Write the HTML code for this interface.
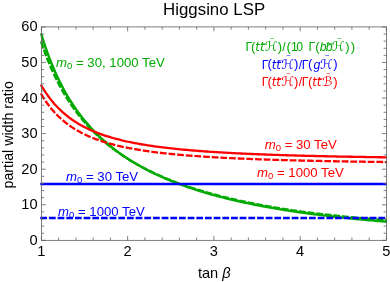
<!DOCTYPE html>
<html><head><meta charset="utf-8"><title>Higgsino LSP</title>
<style>
html,body{margin:0;padding:0;background:#fff;}
body{width:390px;height:282px;overflow:hidden;}
svg{display:block;will-change:transform;}
text{font-family:"Liberation Sans",sans-serif;fill:#000;}
.tk text{font-size:14.6px;}
.it{font-style:italic;}
.dj{font-family:"DejaVu Sans",sans-serif;}
.djo{font-family:"DejaVu Sans",sans-serif;font-style:oblique;}

</style></head><body>
<svg width="390" height="282" viewBox="0 0 390 282">
<rect width="390" height="282" fill="#fff"/>
<clipPath id="cp"><rect x="38" y="20" width="349" height="225"/></clipPath>
<g fill="none" stroke-linejoin="round" stroke-linecap="square" clip-path="url(#cp)">
<path d="M41.40,34.58 L43.57,41.50 L45.74,47.98 L47.91,54.08 L50.08,59.82 L52.25,65.23 L54.42,70.34 L56.59,75.18 L58.76,79.77 L60.93,84.13 L63.10,88.27 L65.27,92.22 L67.44,95.98 L69.61,99.57 L71.78,103.00 L73.95,106.28 L76.12,109.43 L78.29,112.45 L80.46,115.34 L82.63,118.13 L84.80,120.80 L86.97,123.38 L89.14,125.86 L91.31,128.26 L93.48,130.56 L95.65,132.80 L97.82,134.95 L99.98,137.03 L102.15,139.05 L104.32,141.00 L106.49,142.89 L108.66,144.73 L110.83,146.51 L113.00,148.23 L115.17,149.91 L117.34,151.53 L119.51,153.11 L121.68,154.65 L123.85,156.15 L126.02,157.60 L128.19,159.01 L130.36,160.39 L132.53,161.74 L134.70,163.04 L136.87,164.32 L139.04,165.56 L141.21,166.78 L143.38,167.96 L145.55,169.11 L147.72,170.24 L149.89,171.34 L152.06,172.42 L154.23,173.47 L156.40,174.49 L158.57,175.50 L160.74,176.48 L162.91,177.44 L165.08,178.38 L167.25,179.30 L169.42,180.20 L171.59,181.08 L173.76,181.94 L175.93,182.78 L178.10,183.61 L180.27,184.42 L182.44,185.21 L184.61,185.99 L186.78,186.75 L188.95,187.50 L191.12,188.23 L193.29,188.95 L195.46,189.65 L197.63,190.34 L199.80,191.02 L201.97,191.68 L204.14,192.34 L206.31,192.98 L208.48,193.61 L210.65,194.22 L212.82,194.83 L214.98,195.42 L217.15,196.01 L219.32,196.58 L221.49,197.15 L223.66,197.70 L225.83,198.24 L228.00,198.78 L230.17,199.30 L232.34,199.82 L234.51,200.33 L236.68,200.83 L238.85,201.32 L241.02,201.80 L243.19,202.27 L245.36,202.74 L247.53,203.20 L249.70,203.65 L251.87,204.09 L254.04,204.53 L256.21,204.96 L258.38,205.38 L260.55,205.79 L262.72,206.20 L264.89,206.61 L267.06,207.00 L269.23,207.39 L271.40,207.77 L273.57,208.15 L275.74,208.52 L277.91,208.89 L280.08,209.25 L282.25,209.60 L284.42,209.95 L286.59,210.30 L288.76,210.64 L290.93,210.97 L293.10,211.30 L295.27,211.62 L297.44,211.94 L299.61,212.25 L301.78,212.56 L303.95,212.87 L306.12,213.17 L308.29,213.46 L310.46,213.75 L312.63,214.04 L314.80,214.32 L316.97,214.60 L319.14,214.88 L321.31,215.15 L323.48,215.41 L325.65,215.68 L327.82,215.93 L329.98,216.19 L332.15,216.44 L334.32,216.69 L336.49,216.93 L338.66,217.17 L340.83,217.41 L343.00,217.64 L345.17,217.87 L347.34,218.10 L349.51,218.33 L351.68,218.55 L353.85,218.76 L356.02,218.98 L358.19,219.19 L360.36,219.40 L362.53,219.61 L364.70,219.81 L366.87,220.01 L369.04,220.20 L371.21,220.40 L373.38,220.59 L375.55,220.78 L377.72,220.97 L379.89,221.15 L382.06,221.33 L384.23,221.51 L386.40,221.69" stroke="#00aa00" stroke-width="2.4"/>
<path d="M41.40,42.59 L43.57,48.85 L45.74,54.74 L47.91,60.30 L50.08,65.55 L52.25,70.52 L54.42,75.23 L56.59,79.69 L58.76,83.94 L60.93,87.98 L63.10,91.83 L65.27,95.51 L67.44,99.02 L69.61,102.38 L71.78,105.60 L73.95,108.69 L76.12,111.65 L78.29,114.50 L80.46,117.23 L82.63,119.87 L84.80,122.41 L86.97,124.85 L89.14,127.21 L91.31,129.49 L93.48,131.70 L95.65,133.83 L97.82,135.89 L99.98,137.88 L102.15,139.82 L104.32,141.69 L106.49,143.51 L108.66,145.27 L110.83,146.98 L113.00,148.64 L115.17,150.26 L117.34,151.83 L119.51,153.36 L121.68,154.84 L123.85,156.29 L126.02,157.70 L128.19,159.07 L130.36,160.41 L132.53,161.71 L134.70,162.98 L136.87,164.22 L139.04,165.43 L141.21,166.61 L143.38,167.76 L145.55,168.89 L147.72,169.99 L149.89,171.06 L152.06,172.11 L154.23,173.14 L156.40,174.14 L158.57,175.12 L160.74,176.08 L162.91,177.02 L165.08,177.94 L167.25,178.84 L169.42,179.72 L171.59,180.58 L173.76,181.43 L175.93,182.26 L178.10,183.07 L180.27,183.86 L182.44,184.64 L184.61,185.40 L186.78,186.15 L188.95,186.89 L191.12,187.61 L193.29,188.31 L195.46,189.00 L197.63,189.68 L199.80,190.35 L201.97,191.00 L204.14,191.65 L206.31,192.28 L208.48,192.90 L210.65,193.50 L212.82,194.10 L214.98,194.69 L217.15,195.26 L219.32,195.83 L221.49,196.39 L223.66,196.93 L225.83,197.47 L228.00,198.00 L230.17,198.52 L232.34,199.03 L234.51,199.53 L236.68,200.02 L238.85,200.50 L241.02,200.98 L243.19,201.45 L245.36,201.91 L247.53,202.36 L249.70,202.81 L251.87,203.25 L254.04,203.68 L256.21,204.10 L258.38,204.52 L260.55,204.93 L262.72,205.34 L264.89,205.73 L267.06,206.13 L269.23,206.51 L271.40,206.89 L273.57,207.27 L275.74,207.63 L277.91,208.00 L280.08,208.35 L282.25,208.70 L284.42,209.05 L286.59,209.39 L288.76,209.73 L290.93,210.06 L293.10,210.38 L295.27,210.70 L297.44,211.02 L299.61,211.33 L301.78,211.63 L303.95,211.91 L306.12,212.20 L308.29,212.48 L310.46,212.75 L312.63,213.02 L314.80,213.29 L316.97,213.55 L319.14,213.81 L321.31,214.07 L323.48,214.32 L325.65,214.57 L327.82,214.81 L329.98,215.05 L332.15,215.28 L334.32,215.52 L336.49,215.75 L338.66,215.97 L340.83,216.19 L343.00,216.41 L345.17,216.63 L347.34,216.84 L349.51,217.05 L351.68,217.25 L353.85,217.46 L356.02,217.66 L358.19,217.85 L360.36,218.05 L362.53,218.24 L364.70,218.43 L366.87,218.61 L369.04,218.79 L371.21,218.97 L373.38,219.15 L375.55,219.32 L377.72,219.50 L379.89,219.67 L382.06,219.83 L384.23,220.00 L386.40,220.16" stroke="#00aa00" stroke-width="2.4" stroke-dasharray="4.5 4.17"/>
<path d="M41.40,184.00 L386.40,184.00" stroke="#0000ff" stroke-width="2.3"/>
<path d="M41.40,218.00 L386.40,218.00" stroke="#0000ff" stroke-width="2.3" stroke-dasharray="4.5 4.17"/>
<path d="M41.40,85.60 L43.57,89.22 L45.74,92.58 L47.91,95.72 L50.08,98.64 L52.25,101.36 L54.42,103.91 L56.59,106.30 L58.76,108.53 L60.93,110.64 L63.10,112.61 L65.27,114.47 L67.44,116.23 L69.61,117.88 L71.78,119.45 L73.95,120.93 L76.12,122.33 L78.29,123.65 L80.46,124.91 L82.63,126.11 L84.80,127.24 L86.97,128.32 L89.14,129.35 L91.31,130.33 L93.48,131.26 L95.65,132.15 L97.82,133.00 L99.98,133.81 L102.15,134.59 L104.32,135.33 L106.49,136.04 L108.66,136.72 L110.83,137.38 L113.00,138.00 L115.17,138.60 L117.34,139.18 L119.51,139.73 L121.68,140.27 L123.85,140.78 L126.02,141.27 L128.19,141.75 L130.36,142.20 L132.53,142.64 L134.70,143.07 L136.87,143.48 L139.04,143.87 L141.21,144.25 L143.38,144.62 L145.55,144.98 L147.72,145.32 L149.89,145.65 L152.06,145.97 L154.23,146.28 L156.40,146.58 L158.57,146.88 L160.74,147.16 L162.91,147.43 L165.08,147.70 L167.25,147.95 L169.42,148.20 L171.59,148.44 L173.76,148.68 L175.93,148.90 L178.10,149.13 L180.27,149.34 L182.44,149.55 L184.61,149.75 L186.78,149.95 L188.95,150.14 L191.12,150.33 L193.29,150.51 L195.46,150.68 L197.63,150.85 L199.80,151.02 L201.97,151.18 L204.14,151.34 L206.31,151.50 L208.48,151.65 L210.65,151.79 L212.82,151.94 L214.98,152.07 L217.15,152.21 L219.32,152.34 L221.49,152.47 L223.66,152.60 L225.83,152.72 L228.00,152.84 L230.17,152.96 L232.34,153.07 L234.51,153.19 L236.68,153.29 L238.85,153.40 L241.02,153.51 L243.19,153.61 L245.36,153.71 L247.53,153.81 L249.70,153.90 L251.87,153.99 L254.04,154.09 L256.21,154.17 L258.38,154.26 L260.55,154.35 L262.72,154.43 L264.89,154.51 L267.06,154.59 L269.23,154.67 L271.40,154.75 L273.57,154.82 L275.74,154.90 L277.91,154.97 L280.08,155.04 L282.25,155.11 L284.42,155.18 L286.59,155.25 L288.76,155.31 L290.93,155.38 L293.10,155.44 L295.27,155.50 L297.44,155.56 L299.61,155.62 L301.78,155.68 L303.95,155.74 L306.12,155.79 L308.29,155.85 L310.46,155.90 L312.63,155.96 L314.80,156.01 L316.97,156.06 L319.14,156.11 L321.31,156.16 L323.48,156.21 L325.65,156.26 L327.82,156.30 L329.98,156.35 L332.15,156.40 L334.32,156.44 L336.49,156.48 L338.66,156.53 L340.83,156.57 L343.00,156.61 L345.17,156.65 L347.34,156.69 L349.51,156.73 L351.68,156.77 L353.85,156.81 L356.02,156.85 L358.19,156.89 L360.36,156.92 L362.53,156.96 L364.70,156.99 L366.87,157.03 L369.04,157.06 L371.21,157.10 L373.38,157.13 L375.55,157.16 L377.72,157.19 L379.89,157.23 L382.06,157.26 L384.23,157.29 L386.40,157.32" stroke="#ff0000" stroke-width="2.3"/>
<path d="M41.40,94.46 L43.57,97.99 L45.74,101.27 L47.91,104.32 L50.08,107.15 L52.25,109.79 L54.42,112.25 L56.59,114.55 L58.76,116.70 L60.93,118.72 L63.10,120.61 L65.27,122.39 L67.44,124.07 L69.61,125.64 L71.78,127.13 L73.95,128.53 L76.12,129.85 L78.29,131.10 L80.46,132.29 L82.63,133.41 L84.80,134.48 L86.97,135.49 L89.14,136.45 L91.31,137.36 L93.48,138.23 L95.65,139.06 L97.82,139.85 L99.98,140.60 L102.15,141.32 L104.32,142.01 L106.49,142.67 L108.66,143.30 L110.83,143.90 L113.00,144.48 L115.17,145.03 L117.34,145.56 L119.51,146.07 L121.68,146.56 L123.85,147.03 L126.02,147.48 L128.19,147.91 L130.36,148.33 L132.53,148.73 L134.70,149.12 L136.87,149.49 L139.04,149.85 L141.21,150.20 L143.38,150.54 L145.55,150.86 L147.72,151.17 L149.89,151.48 L152.06,151.77 L154.23,152.05 L156.40,152.33 L158.57,152.59 L160.74,152.85 L162.91,153.09 L165.08,153.33 L167.25,153.57 L169.42,153.79 L171.59,154.01 L173.76,154.23 L175.93,154.43 L178.10,154.63 L180.27,154.83 L182.44,155.02 L184.61,155.20 L186.78,155.38 L188.95,155.55 L191.12,155.72 L193.29,155.88 L195.46,156.04 L197.63,156.20 L199.80,156.35 L201.97,156.50 L204.14,156.64 L206.31,156.78 L208.48,156.92 L210.65,157.05 L212.82,157.18 L214.98,157.30 L217.15,157.43 L219.32,157.55 L221.49,157.66 L223.66,157.78 L225.83,157.89 L228.00,158.00 L230.17,158.10 L232.34,158.21 L234.51,158.31 L236.68,158.41 L238.85,158.51 L241.02,158.60 L243.19,158.69 L245.36,158.78 L247.53,158.87 L249.70,158.96 L251.87,159.04 L254.04,159.12 L256.21,159.21 L258.38,159.28 L260.55,159.36 L262.72,159.44 L264.89,159.51 L267.06,159.58 L269.23,159.66 L271.40,159.73 L273.57,159.79 L275.74,159.86 L277.91,159.93 L280.08,159.99 L282.25,160.05 L284.42,160.12 L286.59,160.18 L288.76,160.24 L290.93,160.29 L293.10,160.35 L295.27,160.41 L297.44,160.46 L299.61,160.52 L301.78,160.57 L303.95,160.62 L306.12,160.67 L308.29,160.72 L310.46,160.77 L312.63,160.82 L314.80,160.87 L316.97,160.91 L319.14,160.96 L321.31,161.00 L323.48,161.05 L325.65,161.09 L327.82,161.13 L329.98,161.17 L332.15,161.22 L334.32,161.26 L336.49,161.30 L338.66,161.33 L340.83,161.37 L343.00,161.41 L345.17,161.45 L347.34,161.48 L349.51,161.52 L351.68,161.56 L353.85,161.59 L356.02,161.62 L358.19,161.66 L360.36,161.69 L362.53,161.72 L364.70,161.76 L366.87,161.79 L369.04,161.82 L371.21,161.85 L373.38,161.88 L375.55,161.91 L377.72,161.94 L379.89,161.97 L382.06,161.99 L384.23,162.02 L386.40,162.05" stroke="#ff0000" stroke-width="2.3" stroke-dasharray="4.5 4.17"/>
</g>
<g fill="none" stroke="#606060" stroke-width="0.8">
<rect x="41.4" y="26.9" width="345.00" height="213.45"/>
<path d="M41.40,240.35 v-4.40 M41.40,26.90 v4.40 M58.65,240.35 v-2.80 M58.65,26.90 v2.80 M75.90,240.35 v-2.80 M75.90,26.90 v2.80 M93.15,240.35 v-2.80 M93.15,26.90 v2.80 M110.40,240.35 v-2.80 M110.40,26.90 v2.80 M127.65,240.35 v-4.40 M127.65,26.90 v4.40 M144.90,240.35 v-2.80 M144.90,26.90 v2.80 M162.15,240.35 v-2.80 M162.15,26.90 v2.80 M179.40,240.35 v-2.80 M179.40,26.90 v2.80 M196.65,240.35 v-2.80 M196.65,26.90 v2.80 M213.90,240.35 v-4.40 M213.90,26.90 v4.40 M231.15,240.35 v-2.80 M231.15,26.90 v2.80 M248.40,240.35 v-2.80 M248.40,26.90 v2.80 M265.65,240.35 v-2.80 M265.65,26.90 v2.80 M282.90,240.35 v-2.80 M282.90,26.90 v2.80 M300.15,240.35 v-4.40 M300.15,26.90 v4.40 M317.40,240.35 v-2.80 M317.40,26.90 v2.80 M334.65,240.35 v-2.80 M334.65,26.90 v2.80 M351.90,240.35 v-2.80 M351.90,26.90 v2.80 M369.15,240.35 v-2.80 M369.15,26.90 v2.80 M386.40,240.35 v-4.40 M386.40,26.90 v4.40 M41.40,240.35 h4.40 M386.40,240.35 h-4.40 M41.40,233.23 h2.80 M386.40,233.23 h-2.80 M41.40,226.12 h2.80 M386.40,226.12 h-2.80 M41.40,219.00 h2.80 M386.40,219.00 h-2.80 M41.40,211.89 h2.80 M386.40,211.89 h-2.80 M41.40,204.77 h4.40 M386.40,204.77 h-4.40 M41.40,197.66 h2.80 M386.40,197.66 h-2.80 M41.40,190.55 h2.80 M386.40,190.55 h-2.80 M41.40,183.43 h2.80 M386.40,183.43 h-2.80 M41.40,176.31 h2.80 M386.40,176.31 h-2.80 M41.40,169.20 h4.40 M386.40,169.20 h-4.40 M41.40,162.08 h2.80 M386.40,162.08 h-2.80 M41.40,154.97 h2.80 M386.40,154.97 h-2.80 M41.40,147.86 h2.80 M386.40,147.86 h-2.80 M41.40,140.74 h2.80 M386.40,140.74 h-2.80 M41.40,133.62 h4.40 M386.40,133.62 h-4.40 M41.40,126.51 h2.80 M386.40,126.51 h-2.80 M41.40,119.40 h2.80 M386.40,119.40 h-2.80 M41.40,112.28 h2.80 M386.40,112.28 h-2.80 M41.40,105.16 h2.80 M386.40,105.16 h-2.80 M41.40,98.05 h4.40 M386.40,98.05 h-4.40 M41.40,90.94 h2.80 M386.40,90.94 h-2.80 M41.40,83.82 h2.80 M386.40,83.82 h-2.80 M41.40,76.71 h2.80 M386.40,76.71 h-2.80 M41.40,69.59 h2.80 M386.40,69.59 h-2.80 M41.40,62.47 h4.40 M386.40,62.47 h-4.40 M41.40,55.36 h2.80 M386.40,55.36 h-2.80 M41.40,48.25 h2.80 M386.40,48.25 h-2.80 M41.40,41.13 h2.80 M386.40,41.13 h-2.80 M41.40,34.02 h2.80 M386.40,34.02 h-2.80 M41.40,26.90 h4.40 M386.40,26.90 h-4.40"/>
</g>
<g class="tk"><text x="41.40" y="255.8" text-anchor="middle">1</text><text x="127.65" y="255.8" text-anchor="middle">2</text><text x="213.90" y="255.8" text-anchor="middle">3</text><text x="300.15" y="255.8" text-anchor="middle">4</text><text x="386.40" y="255.8" text-anchor="middle">5</text><text x="37.6" y="244.85" text-anchor="end">0</text><text x="37.6" y="209.27" text-anchor="end">10</text><text x="37.6" y="173.70" text-anchor="end">20</text><text x="37.6" y="138.12" text-anchor="end">30</text><text x="37.6" y="102.55" text-anchor="end">40</text><text x="37.6" y="66.97" text-anchor="end">50</text><text x="37.6" y="31.40" text-anchor="end">60</text></g>
<text x="214.1" y="15.1" text-anchor="middle" font-size="16.85">Higgsino LSP</text>
<text x="214.3" y="278.2" text-anchor="middle" font-size="14.6">tan <tspan class="it">β</tspan></text>
<text transform="translate(13.3,134.8) rotate(-90)" text-anchor="middle" font-size="14.2">partial width ratio</text>
<g class="lg"><text y="51.4" style="fill:#00aa00"><tspan x="245.39" y="51.40" font-size="12.3">Γ</tspan><tspan x="251.08" y="50.90" font-size="13.2">(</tspan><tspan x="255.36" y="51.40" font-size="11.6" class="djo">t</tspan><tspan x="259.96" y="51.40" font-size="11.6" class="djo">t</tspan><tspan x="264.83" y="51.40" font-size="13.0" class="djo">ℋ</tspan><tspan x="277.72" y="50.90" font-size="13.2">)</tspan><tspan x="282.20" y="51.40" font-size="12.3">/</tspan><tspan x="286.48" y="50.90" font-size="13.2">(</tspan><tspan x="291.07" y="51.40" font-size="12.3">1</tspan><tspan x="296.32" y="51.40" font-size="12.3">0</tspan><tspan x="308.49" y="51.40" font-size="12.3">Γ</tspan><tspan x="315.18" y="50.90" font-size="13.2">(</tspan><tspan x="319.83" y="51.40" font-size="12.3" class="it">b</tspan><tspan x="325.83" y="51.40" font-size="12.3" class="it">b</tspan><tspan x="331.73" y="51.40" font-size="13.0" class="djo">ℋ</tspan><tspan x="345.32" y="50.90" font-size="13.2">)</tspan><tspan x="350.72" y="50.90" font-size="13.2">)</tspan></text><text y="68.5" style="fill:#0000ff"><tspan x="261.69" y="68.50" font-size="12.3">Γ</tspan><tspan x="267.38" y="68.00" font-size="13.2">(</tspan><tspan x="271.66" y="68.50" font-size="11.6" class="djo">t</tspan><tspan x="276.26" y="68.50" font-size="11.6" class="djo">t</tspan><tspan x="281.13" y="68.50" font-size="13.0" class="djo">ℋ</tspan><tspan x="294.02" y="68.00" font-size="13.2">)</tspan><tspan x="298.80" y="68.50" font-size="12.3">/</tspan><tspan x="301.79" y="68.50" font-size="12.3">Γ</tspan><tspan x="307.98" y="68.00" font-size="13.2">(</tspan><tspan x="313.38" y="68.50" font-size="12.3" class="it">g</tspan><tspan x="319.93" y="68.50" font-size="13.0" class="djo">ℋ</tspan><tspan x="333.32" y="68.00" font-size="13.2">)</tspan></text><text y="86.2" style="fill:#ff0000"><tspan x="261.69" y="86.20" font-size="12.3">Γ</tspan><tspan x="267.38" y="85.70" font-size="13.2">(</tspan><tspan x="271.66" y="86.20" font-size="11.6" class="djo">t</tspan><tspan x="276.26" y="86.20" font-size="11.6" class="djo">t</tspan><tspan x="281.13" y="86.20" font-size="13.0" class="djo">ℋ</tspan><tspan x="294.02" y="85.70" font-size="13.2">)</tspan><tspan x="298.80" y="86.20" font-size="12.3">/</tspan><tspan x="301.79" y="86.20" font-size="12.3">Γ</tspan><tspan x="307.98" y="85.70" font-size="13.2">(</tspan><tspan x="312.16" y="86.20" font-size="11.6" class="djo">t</tspan><tspan x="316.86" y="86.20" font-size="11.6" class="djo">t</tspan><tspan x="322.02" y="86.20" font-size="13.0" class="djo">ℬ</tspan><tspan x="333.32" y="85.70" font-size="13.2">)</tspan></text><text x="272.10" y="41.20" text-anchor="middle" font-size="7.5" style="fill:#00aa00">~</text><text x="339.00" y="41.20" text-anchor="middle" font-size="7.5" style="fill:#00aa00">~</text><text x="288.40" y="58.30" text-anchor="middle" font-size="7.5" style="fill:#0000ff">~</text><text x="327.20" y="58.30" text-anchor="middle" font-size="7.5" style="fill:#0000ff">~</text><text x="288.40" y="76.00" text-anchor="middle" font-size="7.5" style="fill:#ff0000">~</text><text x="328.10" y="75.70" text-anchor="middle" font-size="7.5" style="fill:#ff0000">~</text><line x1="261.00" y1="43.80" x2="265.40" y2="43.80" stroke="#00aa00" stroke-width="0.7"/><line x1="326.60" y1="43.50" x2="332.00" y2="43.50" stroke="#00aa00" stroke-width="0.7"/><line x1="277.30" y1="60.90" x2="281.70" y2="60.90" stroke="#0000ff" stroke-width="0.7"/><line x1="277.30" y1="78.60" x2="281.70" y2="78.60" stroke="#ff0000" stroke-width="0.7"/><line x1="317.90" y1="78.60" x2="322.30" y2="78.60" stroke="#ff0000" stroke-width="0.7"/></g>
<g font-size="13.2">
<text x="56" y="67" style="fill:#00aa00"><tspan class="it">m</tspan><tspan font-size="9.5" dy="2">0</tspan><tspan dy="-2"> = 30, 1000 TeV</tspan></text>
<text x="264.7" y="148.5" style="fill:#ff0000"><tspan class="it">m</tspan><tspan font-size="9.5" dy="2">0</tspan><tspan dy="-2"> = 30 TeV</tspan></text>
<text x="257" y="177" style="fill:#ff0000"><tspan class="it">m</tspan><tspan font-size="9.5" dy="2">0</tspan><tspan dy="-2"> = 1000 TeV</tspan></text>
<text x="66" y="181" style="fill:#0000ff"><tspan class="it">m</tspan><tspan font-size="9.5" dy="2">0</tspan><tspan dy="-2"> = 30 TeV</tspan></text>
<text x="58" y="216" style="fill:#0000ff"><tspan class="it">m</tspan><tspan font-size="9.5" dy="2">0</tspan><tspan dy="-2"> = 1000 TeV</tspan></text>
</g>
</svg>
</body></html>
